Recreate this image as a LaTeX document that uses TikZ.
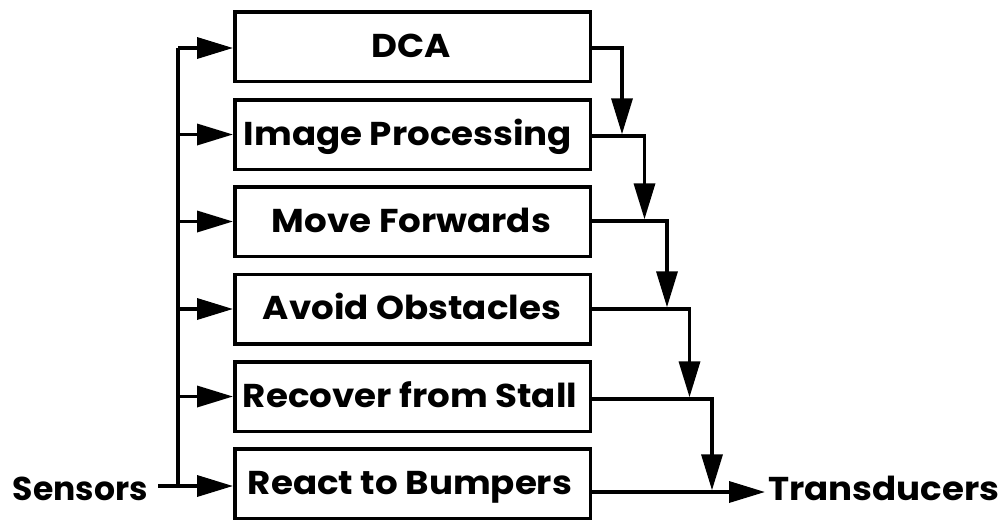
\documentclass[tikz,border=0pt]{standalone}
\usepackage{fontspec}
\setmainfont{Poppins}[FakeStretch=1.08]
\newfontfamily\narrowfont{Poppins}[FakeStretch=1.0]
\usetikzlibrary{arrows.meta}
\begin{document}
\begin{tikzpicture}[x=1pt,y=-1pt,
  line/.style={line width=3.5pt},
  arr/.style={line width=3.5pt,-{Triangle[length=36pt,width=21pt]}},
  box/.style={draw,line width=3.5pt,minimum width=355.5pt,minimum height=69.5pt,inner sep=0pt},
  lbl/.style={font=\fontsize{33}{34}\selectfont\bfseries,inner sep=0pt,anchor=base}]
\useasboundingbox (0,0) rectangle (1003,523);
% boxes
\node[box] (dca) at (412.5,46.5) {};
\node[box] (ip)  at (412.5,134.5) {};
\node[box] (mf)  at (412.5,221.5) {};
\node[box] (ao)  at (412.5,309) {};
\node[box] (rs)  at (412.5,396.5) {};
\node[box] (rb)  at (412.5,483.5) {};
% labels
\node[lbl] (dcat) at (411,57) {DCA};
\node[lbl] (ipt)  at (408,145) {Image Processing};
\node[lbl] (mft)  at (411.5,232) {Move Forwards};
\node[lbl] (aot)  at (412,319.5) {Avoid Obstacles};
\node[lbl] (rst)  at (410,407) {Recover from Stall};
\node[lbl] (rbt)  at (410,494) {React to Bumpers};
\node[lbl,font=\fontsize{33}{34}\selectfont\narrowfont\bfseries,anchor=base east,inner xsep=10pt] (sens) at (158,500) {Sensors};
\node[lbl,anchor=base west,inner xsep=3pt] (trans) at (765,500) {Transducers};
% input bus
\coordinate (busT) at (178,48);
\coordinate (busB) at (178,486);
\draw[line] (busB) -- (busT);
\draw[arr] (busT) -- (dca.west |- busT);
\draw[arr] (busT |- ip.west) -- (ip.west);
\draw[arr] (busT |- mf.west) -- (mf.west);
\draw[arr] (busT |- ao.west) -- (ao.west);
\draw[arr] (busT |- rs.west) -- (rs.west);
\draw[arr] (sens.east |- busB) -- (rb.west |- busB);
% output chain
\coordinate (j1) at (622,134.3);
\coordinate (j2) at (644.5,219.3);
\coordinate (j3) at (667,307.3);
\coordinate (j4) at (689.5,397.3);
\coordinate (j5) at (712,490.3);
\draw[arr] (dca.east |- 0,48) -| (j1);
\draw[arr] (ip.east |- 0,136) -| (j2);
\draw[arr] (mf.east |- 0,221) -| (j3);
\draw[arr] (ao.east |- 0,309) -| (j4);
\draw[arr] (rs.east |- 0,399) -| (j5);
\draw[arr] (rb.east |- 0,492) -- (trans.west |- 0,492);
\end{tikzpicture}
\end{document}
